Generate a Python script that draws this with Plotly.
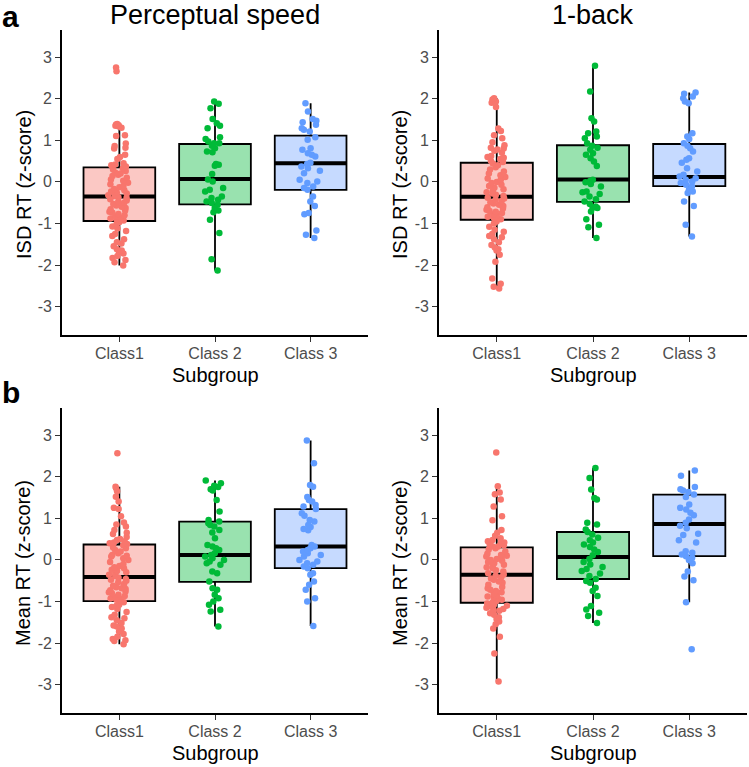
import plotly.graph_objects as go

# ---------------- data ----------------
categories = ["Class1", "Class 2", "Class 3"]
panel_titles = ["Perceptual speed", "1-back"]
row_labels = ["a", "b"]
y_titles = ["ISD RT (z-score)", "Mean RT (z-score)"]
x_title = "Subgroup"
y_tick_vals = [-3, -2, -1, 0, 1, 2, 3]
y_tick_text = ["-3", "-2", "-1", "0", "1", "2", "3"]

# --- ISD RT, Perceptual speed ---
isd_ps_class1 = [2.75, 2.66, 1.39, 1.38, 1.36, 1.35, 1.33, 1.30, 1.12, 1.10, 0.92, 0.86, 0.82, 0.80,
                 0.65, 0.60, 0.55, 0.45, 0.42, 0.40, 0.37,
                 0.33, 0.30, 0.26, 0.22, 0.20, 0.17, 0.14, 0.10, 0.06, 0.03, -0.02, -0.06, -0.10,
                 -0.13, -0.17, -0.20, -0.23, -0.26, -0.28, -0.30, -0.32, -0.34,
                 -0.37, -0.39, -0.42, -0.45, -0.48, -0.50, -0.53, -0.57, -0.60, -0.63, -0.66, -0.69,
                 -0.72, -0.74, -0.77, -0.80, -0.83, -0.85, -0.88, -0.90, -0.92, -0.93,
                 -0.97, -1.02, -1.07, -1.12, -1.18, -1.25, -1.30, -1.38, -1.45, -1.48, -1.55, -1.62,
                 -1.65, -1.68, -1.72, -1.78, -1.83, -1.88, -1.93, -2.01]
isd_ps_class2 = [1.93, 1.875, 1.77, 1.51, 1.41, 1.35, 1.29, 1.07, 1.03, 0.97, 0.93, 0.93, 0.87, 0.81,
                 0.73, 0.71, 0.43, 0.41, 0.39, 0.19, 0.06, 0.01, -0.15, -0.19, -0.23, -0.35, -0.39,
                 -0.43, -0.47, -0.51, -0.55, -0.63, -0.69, -0.73, -0.91, -1.23, -1.86, -2.13]
isd_ps_class3 = [1.89, 1.69, 1.51, 1.47, 1.43, 1.37, 1.29, 1.25, 1.21, 1.07, 1.01, 0.81, 0.77, 0.69,
                 0.65, 0.61, 0.46, 0.43, 0.37, 0.33, 0.27, 0.21, 0.05, 0.01, -0.03, -0.11, -0.15,
                 -0.19, -0.35, -0.47, -0.58, -0.75, -0.78, -1.17, -1.27, -1.35]

# --- ISD RT, 1-back ---
isd_nb_class1 = [2.01, 1.98, 1.93, 1.90, 1.80, 1.28, 1.22, 1.12, 1.05, 0.95, 0.88, 0.82, 0.80, 0.78,
                 0.75, 0.70, 0.62, 0.60, 0.58, 0.55, 0.50, 0.48,
                 0.44, 0.40, 0.35, 0.30, 0.25, 0.20, 0.16, 0.12, 0.08, 0.05, 0.00, -0.03, -0.07,
                 -0.10, -0.14, -0.18, -0.22, -0.25, -0.28, -0.31, -0.34,
                 -0.38, -0.40, -0.43, -0.46, -0.49, -0.52, -0.55, -0.58, -0.61, -0.64, -0.67, -0.70,
                 -0.72, -0.75, -0.78, -0.81, -0.84, -0.87, -0.89, -0.90,
                 -0.95, -1.00, -1.08, -1.15, -1.20, -1.25, -1.30, -1.33, -1.38, -1.45, -1.52, -1.58,
                 -1.62, -1.65, -1.75, -1.92, -2.32, -2.45, -2.52, -2.56]
isd_nb_class2 = [2.79, 2.17, 1.53, 1.45, 1.21, 1.17, 1.09, 1.05, 0.93, 0.87, 0.82, 0.77, 0.69, 0.65,
                 0.57, 0.49, 0.38, 0.05, 0.02, -0.01, -0.05, -0.11, -0.23, -0.25, -0.29, -0.35, -0.42,
                 -0.47, -0.53, -0.59, -0.62, -0.63, -0.71, -0.90, -1.03, -1.09, -1.35]
isd_nb_class3 = [2.15, 2.12, 2.05, 2.01, 1.93, 1.89, 1.17, 1.09, 1.03, 0.93, 0.87, 0.81, 0.73, 0.57,
                 0.53, 0.46, 0.33, 0.25, 0.17, 0.13, 0.09, 0.05, 0.01, -0.03, -0.07, -0.11, -0.19,
                 -0.23, -0.27, -0.47, -0.58, -1.03, -1.31]

# --- Mean RT, Perceptual speed ---
mean_ps_class1 = [2.56, 1.76, 1.72, 1.65, 1.52, 1.40, 1.25, 1.22, 1.05, 0.90, 0.85, 0.80, 0.72, 0.65,
                  0.62, 0.55, 0.50, 0.48, 0.45, 0.42, 0.40, 0.38,
                  0.35, 0.30, 0.28, 0.24, 0.20, 0.16, 0.12, 0.10, 0.08, 0.04, 0.00, -0.05, -0.10,
                  -0.15, -0.18, -0.20, -0.24, -0.27, -0.30, -0.33, -0.36, -0.39,
                  -0.43, -0.46, -0.48, -0.50, -0.54, -0.58, -0.62, -0.66, -0.68, -0.70, -0.73, -0.76,
                  -0.78, -0.80, -0.84, -0.87, -0.90, -0.92, -0.93, -0.96, -0.98,
                  -1.02, -1.08, -1.10, -1.13, -1.18, -1.25, -1.32, -1.38, -1.40, -1.45, -1.52, -1.58,
                  -1.60, -1.65, -1.72, -1.78, -1.85, -1.90, -1.93, -1.95, -2.03]
mean_ps_class2 = [1.91, 1.84, 1.78, 1.75, 1.70, 1.67, 1.44, 1.16, 0.96, 0.92, 0.88, 0.84, 0.80, 0.72,
                  0.66, 0.52, 0.36, 0.32, 0.28, 0.24, 0.16, 0.12, 0.08, 0.04, 0.00, -0.04, -0.08,
                  -0.12, -0.28, -0.32, -0.52, -0.68, -0.72, -0.84, -0.92, -1.00, -1.08, -1.20, -1.24,
                  -1.60]
mean_ps_class3 = [2.87, 2.32, 1.80, 1.76, 1.51, 1.44, 1.40, 1.32, 1.28, 1.22, 1.12, 1.06, 0.96, 0.92,
                  0.84, 0.79, 0.74, 0.71, 0.36, 0.32, 0.28, 0.24, 0.20, 0.16, 0.12, 0.08, 0.00,
                  -0.04, -0.08, -0.12, -0.16, -0.20, -0.32, -0.36, -0.52, -0.60, -0.72, -0.92, -1.00,
                  -1.59]

# --- Mean RT, 1-back ---
mean_nb_class1 = [2.58, 1.77, 1.62, 1.58, 1.45, 1.28, 1.05, 0.95, 0.72, 0.65, 0.58, 0.52, 0.48, 0.45,
                  0.42, 0.40, 0.37, 0.35, 0.33, 0.32,
                  0.28, 0.25, 0.20, 0.15, 0.12, 0.10, 0.08, 0.05, 0.02, 0.00, -0.02, -0.05, -0.08,
                  -0.12, -0.15, -0.18, -0.20, -0.25, -0.28, -0.32, -0.35,
                  -0.38, -0.42, -0.45, -0.48, -0.52, -0.55, -0.60, -0.65, -0.68, -0.72, -0.75, -0.78,
                  -0.82, -0.85, -0.88, -0.90, -0.93, -0.96, -0.99, -1.01,
                  -1.05, -1.08, -1.10, -1.12, -1.15, -1.18, -1.20, -1.22, -1.28, -1.32, -1.38, -1.42,
                  -1.48, -1.55, -1.65, -1.85, -2.25, -2.92]
mean_nb_class2 = [2.21, 1.97, 1.69, 1.49, 1.45, 0.89, 0.85, 0.73, 0.67, 0.61, 0.53, 0.47, 0.42, 0.37,
                  0.31, 0.25, 0.19, 0.11, 0.02, -0.05, -0.11, -0.17, -0.22, -0.27, -0.33, -0.39,
                  -0.46, -0.51, -0.55, -0.67, -0.75, -0.87, -1.11, -1.19, -1.27, -1.35, -1.52]
mean_nb_class3 = [2.15, 2.02, 1.75, 1.70, 1.67, 1.63, 1.57, 1.51, 1.33, 1.25, 1.21, 1.13, 1.07, 0.97,
                  0.89, 0.82, 0.76, 0.63, 0.60, 0.47, 0.42, 0.21, 0.17, 0.13, 0.09, 0.05, 0.00,
                  -0.08, -0.28, -0.40, -0.49, -1.02, -2.15]

# box statistics: [Class1, Class 2, Class 3]
isd_ps_q1 = [-0.94, -0.54, -0.19]
isd_ps_med = [-0.35, 0.07, 0.45]
isd_ps_q3 = [0.35, 0.91, 1.11]
isd_ps_lo = [-2.01, -2.13, -1.35]
isd_ps_hi = [1.39, 1.93, 1.89]

isd_nb_q1 = [-0.91, -0.48, -0.10]
isd_nb_med = [-0.36, 0.06, 0.12]
isd_nb_q3 = [0.46, 0.88, 0.91]
isd_nb_lo = [-2.56, -1.35, -1.31]
isd_nb_hi = [2.01, 2.79, 2.15]

mean_ps_q1 = [-0.99, -0.53, -0.20]
mean_ps_med = [-0.41, 0.12, 0.32]
mean_ps_q3 = [0.37, 0.92, 1.22]
mean_ps_lo = [-2.03, -1.60, -1.59]
mean_ps_hi = [1.76, 1.91, 2.87]

mean_nb_q1 = [-1.03, -0.46, 0.09]
mean_nb_med = [-0.36, 0.07, 0.86]
mean_nb_q3 = [0.30, 0.67, 1.57]
mean_nb_lo = [-2.92, -1.52, -1.02]
mean_nb_hi = [1.77, 2.21, 2.15]

# ---------------- styling ----------------
W, H = 749, 767
point_colors = ["#F8766D", "#00BA38", "#619CFF"]
fill_colors = ["#FBC8C4", "#99E2AF", "#C6DAFF"]
FONT = "Liberation Sans, Arial, sans-serif"

panels = [
    dict(vals=[isd_ps_class1, isd_ps_class2, isd_ps_class3], q1=isd_ps_q1, med=isd_ps_med,
         q3=isd_ps_q3, lo=isd_ps_lo, hi=isd_ps_hi),
    dict(vals=[isd_nb_class1, isd_nb_class2, isd_nb_class3], q1=isd_nb_q1, med=isd_nb_med,
         q3=isd_nb_q3, lo=isd_nb_lo, hi=isd_nb_hi),
    dict(vals=[mean_ps_class1, mean_ps_class2, mean_ps_class3], q1=mean_ps_q1, med=mean_ps_med,
         q3=mean_ps_q3, lo=mean_ps_lo, hi=mean_ps_hi),
    dict(vals=[mean_nb_class1, mean_nb_class2, mean_nb_class3], q1=mean_nb_q1, med=mean_nb_med,
         q3=mean_nb_q3, lo=mean_nb_lo, hi=mean_nb_hi),
]

# pixel boxes of the four plot areas: (left, right, top, bottom)
px_boxes = [(62, 368, 30, 335), (439, 747, 30, 335), (62, 368, 408, 713), (439, 747, 408, 713)]

fig = go.Figure()
for k, p in enumerate(panels):
    suf = "" if k == 0 else str(k + 1)
    xa, ya = "x" + suf, "y" + suf
    for c in range(3):
        cat = categories[c]
        # the box
        fig.add_trace(go.Box(
            x=[cat], q1=[p["q1"][c]], median=[p["med"][c]], q3=[p["q3"][c]],
            lowerfence=[p["lo"][c]], upperfence=[p["hi"][c]],
            width=0.75, whiskerwidth=0, fillcolor=fill_colors[c],
            line=dict(color="black", width=1.8), boxpoints=False,
            xaxis=xa, yaxis=ya, hoverinfo="skip"))
        # thick median bar
        fig.add_trace(go.Box(
            x=[cat], q1=[p["med"][c]], median=[p["med"][c]], q3=[p["med"][c]],
            lowerfence=[p["med"][c]], upperfence=[p["med"][c]],
            width=0.75, whiskerwidth=0, fillcolor="rgba(0,0,0,0)",
            line=dict(color="black", width=4), boxpoints=False,
            xaxis=xa, yaxis=ya, hoverinfo="skip"))
        # jittered points
        fig.add_trace(go.Box(
            x=[cat] * len(p["vals"][c]), y=p["vals"][c],
            width=0.75, boxpoints="all", jitter=0.32, pointpos=0,
            fillcolor="rgba(0,0,0,0)", line=dict(color="rgba(0,0,0,0)", width=0),
            marker=dict(color=point_colors[c], size=6.5, line=dict(width=0)),
            xaxis=xa, yaxis=ya, hoverinfo="y"))

    l, r, t, b = px_boxes[k]
    xdom = [l / W, r / W]
    ydom = [1 - b / H, 1 - t / H]
    fig.update_layout({
        "xaxis" + suf: dict(domain=xdom, anchor=ya, type="category",
                            categoryorder="array", categoryarray=categories,
                            range=[-0.6, 2.6], showline=True, linecolor="black", linewidth=1.6,
                            ticks="outside", ticklen=5, tickwidth=1.2, tickcolor="#333333",
                            ticklabelstandoff=-2,
                            showgrid=False, zeroline=False, fixedrange=True,
                            tickfont=dict(family=FONT, size=16, color="#4D4D4D")),
        "yaxis" + suf: dict(domain=ydom, anchor=xa, range=[-3.68, 3.65],
                            tickvals=y_tick_vals, ticktext=y_tick_text,
                            showline=True, linecolor="black", linewidth=1.6,
                            ticks="outside", ticklen=5, tickwidth=1.2, tickcolor="#333333",
                            showgrid=False, zeroline=False, fixedrange=True,
                            tickfont=dict(family=FONT, size=16, color="#4D4D4D")),
    })

annotations = []
def px_ann(text, x, y, size, angle=0, bold=False, xanchor="center", yanchor="middle"):
    annotations.append(dict(
        text=("<b>%s</b>" % text) if bold else text, x=x / W, y=1 - y / H,
        xref="paper", yref="paper", showarrow=False, textangle=angle,
        xanchor=xanchor, yanchor=yanchor, borderpad=0,
        font=dict(family=FONT, size=size, color="black")))

# panel titles
px_ann(panel_titles[0], 215, 15, 27)
px_ann(panel_titles[1], 593, 15, 27)
# row labels
px_ann(row_labels[0], 1, 17, 30, bold=True, xanchor="left")
px_ann(row_labels[1], 1, 392, 30, bold=True, xanchor="left")
# y titles
px_ann(y_titles[0], 24, 185, 20, angle=-90)
px_ann(y_titles[0], 400, 185, 20, angle=-90)
px_ann(y_titles[1], 23, 563, 20, angle=-90)
px_ann(y_titles[1], 400, 563, 20, angle=-90)
# x titles
px_ann(x_title, 215, 375, 20)
px_ann(x_title, 593, 375, 20)
px_ann(x_title, 215, 753, 20)
px_ann(x_title, 593, 753, 20)

fig.update_layout(
    width=W, height=H, margin=dict(l=0, r=0, t=0, b=0, autoexpand=False),
    paper_bgcolor="white", plot_bgcolor="white", showlegend=False,
    boxmode="overlay", annotations=annotations,
    font=dict(family=FONT),
)

fig.write_html(
    "out.html",
    config={"displayModeBar": False},
    post_script="document.body.style.margin='0px';document.body.style.padding='0px';"
                "document.body.style.overflow='hidden';",
)
